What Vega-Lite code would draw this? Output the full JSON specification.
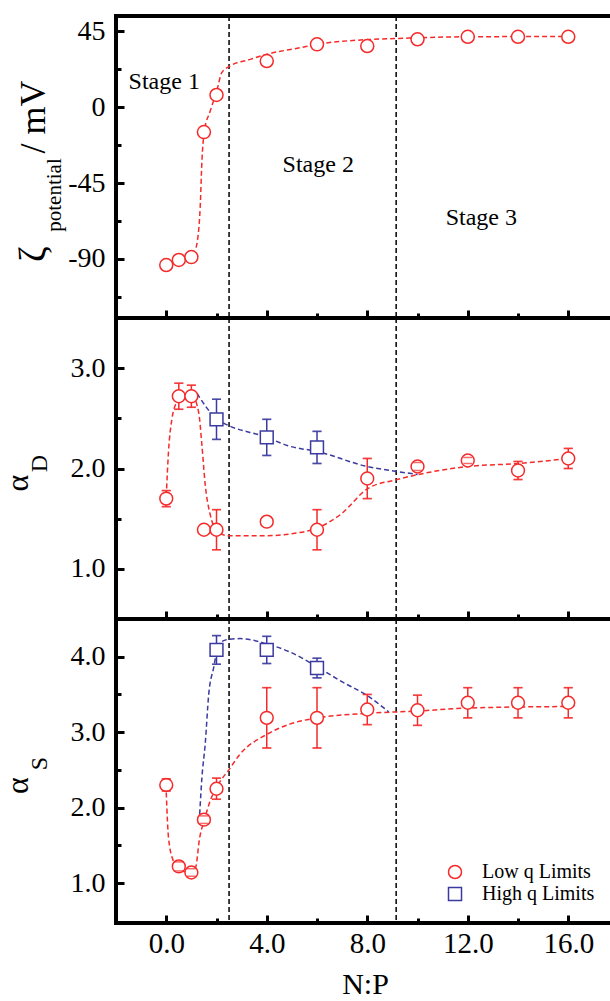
{
  "$schema": "https://vega.github.io/schema/vega-lite/v6.json",
  "background": "white",
  "padding": {"left": 0, "top": 13, "right": 0, "bottom": 0},
  "spacing": 0,
  "bounds": "flush",
  "config": {
    "view": {"stroke": "black", "strokeWidth": 4},
    "axis": {"domain": false, "grid": false, "labelFont": "Liberation Serif", "labelFontSize": 28, "labelColor": "black", "tickColor": "black", "tickWidth": 3, "titleFont": "Liberation Serif", "titleFontWeight": "normal", "titleColor": "black", "labelOverlap": false, "labelFlush": false, "labelBound": false}
  },
  "resolve": {"legend": {"stroke": "independent", "shape": "independent"}},
  "datasets": {
    "dividers": [{"np": 2.5}, {"np": 9.15}],
    "zeta": [
      {"np": 0, "zeta": -93.6}, {"np": 0.5, "zeta": -90.6}, {"np": 1, "zeta": -88.9}, {"np": 1.5, "zeta": -14.8},
      {"np": 2, "zeta": 7.2}, {"np": 4, "zeta": 27.3}, {"np": 6, "zeta": 37.2}, {"np": 8, "zeta": 36.2},
      {"np": 10, "zeta": 40.2}, {"np": 12, "zeta": 41.7}, {"np": 14, "zeta": 41.7}, {"np": 16, "zeta": 41.7}
    ],
    "zetaFit": [
      {"np": 1.19, "zeta": -83.3}, {"np": 1.35, "zeta": -59.6}, {"np": 1.42, "zeta": -32}, {"np": 1.51, "zeta": -14.8},
      {"np": 1.75, "zeta": -2.3}, {"np": 2.01, "zeta": 9.5}, {"np": 2.21, "zeta": 20.4}, {"np": 2.55, "zeta": 24.4},
      {"np": 3.34, "zeta": 28.3}, {"np": 4.0, "zeta": 31.3}, {"np": 5.33, "zeta": 35.2}, {"np": 6.0, "zeta": 37.2},
      {"np": 8, "zeta": 40.0}, {"np": 9.2, "zeta": 40.7}, {"np": 10, "zeta": 41.1}, {"np": 12, "zeta": 41.7},
      {"np": 14, "zeta": 41.8}, {"np": 16, "zeta": 41.9}
    ],
    "stages": [
      {"np": -0.08, "zeta": 14.9, "label": "Stage 1"},
      {"np": 6.05, "zeta": -34.3, "label": "Stage 2"},
      {"np": 12.54, "zeta": -65.7, "label": "Stage 3"}
    ],
    "alphaD": [
      {"np": 0, "value": 1.70, "err": 0.08, "series": "Low q Limits"},
      {"np": 0.5, "value": 2.72, "err": 0.13, "series": "Low q Limits"},
      {"np": 1, "value": 2.72, "err": 0.11, "series": "Low q Limits"},
      {"np": 1.5, "value": 1.39, "err": null, "series": "Low q Limits"},
      {"np": 2, "value": 1.39, "err": 0.2, "series": "Low q Limits"},
      {"np": 4, "value": 1.47, "err": null, "series": "Low q Limits"},
      {"np": 6, "value": 1.39, "err": 0.2, "series": "Low q Limits"},
      {"np": 8, "value": 1.90, "err": 0.2, "series": "Low q Limits"},
      {"np": 10, "value": 2.02, "err": 0.04, "series": "Low q Limits"},
      {"np": 12, "value": 2.08, "err": 0.03, "series": "Low q Limits"},
      {"np": 14, "value": 1.98, "err": 0.09, "series": "Low q Limits"},
      {"np": 16, "value": 2.10, "err": 0.1, "series": "Low q Limits"},
      {"np": 2, "value": 2.49, "err": 0.2, "series": "High q Limits"},
      {"np": 4, "value": 2.31, "err": 0.18, "series": "High q Limits"},
      {"np": 6, "value": 2.21, "err": 0.16, "series": "High q Limits"}
    ],
    "alphaDFit": [
      {"np": 0.0, "value": 1.72, "series": "Low q Limits"},
      {"np": 0.09, "value": 2.17, "series": "Low q Limits"},
      {"np": 0.23, "value": 2.50, "series": "Low q Limits"},
      {"np": 0.36, "value": 2.63, "series": "Low q Limits"},
      {"np": 0.56, "value": 2.69, "series": "Low q Limits"},
      {"np": 1.02, "value": 2.73, "series": "Low q Limits"},
      {"np": 1.29, "value": 2.56, "series": "Low q Limits"},
      {"np": 1.42, "value": 2.23, "series": "Low q Limits"},
      {"np": 1.55, "value": 1.84, "series": "Low q Limits"},
      {"np": 1.75, "value": 1.54, "series": "Low q Limits"},
      {"np": 2.01, "value": 1.38, "series": "Low q Limits"},
      {"np": 2.47, "value": 1.33, "series": "Low q Limits"},
      {"np": 4.0, "value": 1.33, "series": "Low q Limits"},
      {"np": 5.0, "value": 1.35, "series": "Low q Limits"},
      {"np": 6.04, "value": 1.41, "series": "Low q Limits"},
      {"np": 6.93, "value": 1.54, "series": "Low q Limits"},
      {"np": 8.02, "value": 1.80, "series": "Low q Limits"},
      {"np": 9.19, "value": 1.89, "series": "Low q Limits"},
      {"np": 10.03, "value": 1.94, "series": "Low q Limits"},
      {"np": 12.02, "value": 2.02, "series": "Low q Limits"},
      {"np": 14.01, "value": 2.05, "series": "Low q Limits"},
      {"np": 16.03, "value": 2.10, "series": "Low q Limits"},
      {"np": 1.22, "value": 2.75, "series": "High q Limits"},
      {"np": 2.0, "value": 2.50, "series": "High q Limits"},
      {"np": 4.0, "value": 2.31, "series": "High q Limits"},
      {"np": 4.94, "value": 2.22, "series": "High q Limits"},
      {"np": 6.0, "value": 2.17, "series": "High q Limits"},
      {"np": 8.0, "value": 2.02, "series": "High q Limits"},
      {"np": 9.2, "value": 1.97, "series": "High q Limits"},
      {"np": 10.0, "value": 1.94, "series": "High q Limits"}
    ],
    "alphaS": [
      {"np": 0, "value": 2.30, "err": 0.08, "series": "Low q Limits"},
      {"np": 0.5, "value": 1.22, "err": 0.06, "series": "Low q Limits"},
      {"np": 1, "value": 1.14, "err": 0.05, "series": "Low q Limits"},
      {"np": 1.5, "value": 1.84, "err": 0.05, "series": "Low q Limits"},
      {"np": 2, "value": 2.25, "err": 0.14, "series": "Low q Limits"},
      {"np": 4, "value": 3.19, "err": 0.4, "series": "Low q Limits"},
      {"np": 6, "value": 3.19, "err": 0.4, "series": "Low q Limits"},
      {"np": 8, "value": 3.30, "err": 0.2, "series": "Low q Limits"},
      {"np": 10, "value": 3.29, "err": 0.2, "series": "Low q Limits"},
      {"np": 12, "value": 3.39, "err": 0.2, "series": "Low q Limits"},
      {"np": 14, "value": 3.39, "err": 0.2, "series": "Low q Limits"},
      {"np": 16, "value": 3.39, "err": 0.2, "series": "Low q Limits"},
      {"np": 2, "value": 4.09, "err": 0.19, "series": "High q Limits"},
      {"np": 4, "value": 4.09, "err": 0.18, "series": "High q Limits"},
      {"np": 6, "value": 3.85, "err": 0.13, "series": "High q Limits"}
    ],
    "alphaSFit": [
      {"np": 0.0, "value": 2.20, "series": "Low q Limits"},
      {"np": 0.09, "value": 1.60, "series": "Low q Limits"},
      {"np": 0.29, "value": 1.29, "series": "Low q Limits"},
      {"np": 0.52, "value": 1.20, "series": "Low q Limits"},
      {"np": 0.82, "value": 1.14, "series": "Low q Limits"},
      {"np": 1.16, "value": 1.20, "series": "Low q Limits"},
      {"np": 1.33, "value": 1.60, "series": "Low q Limits"},
      {"np": 1.52, "value": 1.84, "series": "Low q Limits"},
      {"np": 1.75, "value": 2.09, "series": "Low q Limits"},
      {"np": 2.15, "value": 2.35, "series": "Low q Limits"},
      {"np": 2.47, "value": 2.49, "series": "Low q Limits"},
      {"np": 2.94, "value": 2.71, "series": "Low q Limits"},
      {"np": 4.0, "value": 2.97, "series": "Low q Limits"},
      {"np": 4.94, "value": 3.11, "series": "Low q Limits"},
      {"np": 6.04, "value": 3.19, "series": "Low q Limits"},
      {"np": 8.02, "value": 3.25, "series": "Low q Limits"},
      {"np": 10.03, "value": 3.28, "series": "Low q Limits"},
      {"np": 12.0, "value": 3.32, "series": "Low q Limits"},
      {"np": 16.0, "value": 3.34, "series": "Low q Limits"},
      {"np": 1.33, "value": 1.91, "series": "High q Limits"},
      {"np": 1.42, "value": 2.40, "series": "High q Limits"},
      {"np": 1.55, "value": 2.84, "series": "High q Limits"},
      {"np": 1.69, "value": 3.50, "series": "High q Limits"},
      {"np": 1.89, "value": 3.86, "series": "High q Limits"},
      {"np": 2.09, "value": 4.17, "series": "High q Limits"},
      {"np": 2.47, "value": 4.23, "series": "High q Limits"},
      {"np": 2.94, "value": 4.24, "series": "High q Limits"},
      {"np": 4.0, "value": 4.17, "series": "High q Limits"},
      {"np": 4.94, "value": 4.06, "series": "High q Limits"},
      {"np": 6.04, "value": 3.86, "series": "High q Limits"},
      {"np": 6.93, "value": 3.68, "series": "High q Limits"},
      {"np": 8.02, "value": 3.48, "series": "High q Limits"},
      {"np": 8.85, "value": 3.27, "series": "High q Limits"}
    ]
  },
  "vconcat": [
    {
      "width": 498, "height": 302,
      "layer": [
        {"data": {"name": "dividers"}, "mark": {"type": "rule", "color": "black", "strokeWidth": 1.5, "strokeDash": [5, 3]},
         "encoding": {
           "x": {"field": "np", "type": "quantitative", "scale": {"domain": [-2, 17.82], "nice": false, "zero": false},
                 "axis": {"values": [0, 2, 4, 6, 8, 10, 12, 14, 16], "labels": false, "title": null, "tickSize": {"condition": {"test": "datum.value % 4 === 0", "value": -8}, "value": -5}}}}},
        {"data": {"name": "zetaFit"}, "mark": {"type": "line", "color": "#f52a2a", "strokeWidth": 1.5, "strokeDash": [5, 3], "interpolate": "monotone"},
         "encoding": {
           "x": {"field": "np", "type": "quantitative", "scale": {"domain": [-2, 17.82], "nice": false, "zero": false},
                 "axis": {"values": [0, 2, 4, 6, 8, 10, 12, 14, 16], "labels": false, "title": null, "tickSize": {"condition": {"test": "datum.value % 4 === 0", "value": -8}, "value": -5}}},
           "y": {"field": "zeta", "type": "quantitative", "scale": {"domain": [-125, 54], "nice": false, "zero": false},
                 "axis": {"values": [-112.5, -90, -67.5, -45, -22.5, 0, 22.5, 45], "title": null, "labelExpr": "datum.value % 45 === 0 ? toString(datum.value) : ''", "labelPadding": 19, "tickSize": {"condition": {"test": "datum.value % 45 === 0", "value": -8}, "value": -5}}}}},
        {"data": {"name": "zeta"}, "mark": {"type": "point", "shape": "circle", "size": 169, "filled": true, "fill": "white", "stroke": "#f52a2a", "strokeWidth": 1.5, "opacity": 1},
         "encoding": {
           "x": {"field": "np", "type": "quantitative", "scale": {"domain": [-2, 17.82], "nice": false, "zero": false},
                 "axis": {"values": [0, 2, 4, 6, 8, 10, 12, 14, 16], "labels": false, "title": null, "tickSize": {"condition": {"test": "datum.value % 4 === 0", "value": -8}, "value": -5}}},
           "y": {"field": "zeta", "type": "quantitative", "scale": {"domain": [-125, 54], "nice": false, "zero": false},
                 "axis": {"values": [-112.5, -90, -67.5, -45, -22.5, 0, 22.5, 45], "title": null, "labelExpr": "datum.value % 45 === 0 ? toString(datum.value) : ''", "labelPadding": 19, "tickSize": {"condition": {"test": "datum.value % 45 === 0", "value": -8}, "value": -5}}}}},
        {"data": {"name": "stages"}, "mark": {"type": "text", "font": "Liberation Serif", "fontSize": 24, "color": "black"},
         "encoding": {
           "x": {"field": "np", "type": "quantitative", "scale": {"domain": [-2, 17.82], "nice": false, "zero": false},
                 "axis": {"values": [0, 2, 4, 6, 8, 10, 12, 14, 16], "labels": false, "title": null, "tickSize": {"condition": {"test": "datum.value % 4 === 0", "value": -8}, "value": -5}}},
           "y": {"field": "zeta", "type": "quantitative", "scale": {"domain": [-125, 54], "nice": false, "zero": false},
                 "axis": {"values": [-112.5, -90, -67.5, -45, -22.5, 0, 22.5, 45], "title": null, "labelExpr": "datum.value % 45 === 0 ? toString(datum.value) : ''", "labelPadding": 19, "tickSize": {"condition": {"test": "datum.value % 45 === 0", "value": -8}, "value": -5}}},
           "text": {"field": "label"}}},
        {"data": {"values": [{}]}, "mark": {"type": "text", "text": "ζ", "font": "Liberation Serif", "fontSize": 38, "angle": 270, "baseline": "alphabetic", "align": "center", "color": "black"},
         "encoding": {
           "x": {"datum": -4.82, "type": "quantitative", "scale": {"domain": [-2, 17.82], "nice": false, "zero": false},
                 "axis": {"values": [0, 2, 4, 6, 8, 10, 12, 14, 16], "labels": false, "title": null, "tickSize": {"condition": {"test": "datum.value % 4 === 0", "value": -8}, "value": -5}}},
           "y": {"datum": -87.1, "type": "quantitative", "scale": {"domain": [-125, 54], "nice": false, "zero": false},
                 "axis": {"values": [-112.5, -90, -67.5, -45, -22.5, 0, 22.5, 45], "title": null, "labelExpr": "datum.value % 45 === 0 ? toString(datum.value) : ''", "labelPadding": 19, "tickSize": {"condition": {"test": "datum.value % 45 === 0", "value": -8}, "value": -5}}}}},
        {"data": {"values": [{}]}, "mark": {"type": "text", "text": "potential", "font": "Liberation Serif", "fontSize": 21, "angle": 270, "baseline": "alphabetic", "align": "center", "color": "black"},
         "encoding": {
           "x": {"datum": -4.18, "type": "quantitative", "scale": {"domain": [-2, 17.82], "nice": false, "zero": false},
                 "axis": {"values": [0, 2, 4, 6, 8, 10, 12, 14, 16], "labels": false, "title": null, "tickSize": {"condition": {"test": "datum.value % 4 === 0", "value": -8}, "value": -5}}},
           "y": {"datum": -52.1, "type": "quantitative", "scale": {"domain": [-125, 54], "nice": false, "zero": false},
                 "axis": {"values": [-112.5, -90, -67.5, -45, -22.5, 0, 22.5, 45], "title": null, "labelExpr": "datum.value % 45 === 0 ? toString(datum.value) : ''", "labelPadding": 19, "tickSize": {"condition": {"test": "datum.value % 45 === 0", "value": -8}, "value": -5}}}}},
        {"data": {"values": [{}]}, "mark": {"type": "text", "text": "/ mV", "font": "Liberation Serif", "fontSize": 36, "angle": 270, "baseline": "alphabetic", "align": "center", "color": "black"},
         "encoding": {
           "x": {"datum": -4.82, "type": "quantitative", "scale": {"domain": [-2, 17.82], "nice": false, "zero": false},
                 "axis": {"values": [0, 2, 4, 6, 8, 10, 12, 14, 16], "labels": false, "title": null, "tickSize": {"condition": {"test": "datum.value % 4 === 0", "value": -8}, "value": -5}}},
           "y": {"datum": -5.9, "type": "quantitative", "scale": {"domain": [-125, 54], "nice": false, "zero": false},
                 "axis": {"values": [-112.5, -90, -67.5, -45, -22.5, 0, 22.5, 45], "title": null, "labelExpr": "datum.value % 45 === 0 ? toString(datum.value) : ''", "labelPadding": 19, "tickSize": {"condition": {"test": "datum.value % 45 === 0", "value": -8}, "value": -5}}}}}
      ]
    },
    {
      "width": 498, "height": 301,
      "layer": [
        {"data": {"name": "dividers"}, "mark": {"type": "rule", "color": "black", "strokeWidth": 1.5, "strokeDash": [5, 3]},
         "encoding": {
           "x": {"field": "np", "type": "quantitative", "scale": {"domain": [-2, 17.82], "nice": false, "zero": false},
                 "axis": {"values": [0, 2, 4, 6, 8, 10, 12, 14, 16], "labels": false, "title": null, "tickSize": {"condition": {"test": "datum.value % 4 === 0", "value": -8}, "value": -5}}}}},
        {"data": {"name": "alphaDFit"}, "mark": {"type": "line", "strokeWidth": 1.5, "strokeDash": [5, 3], "interpolate": "monotone"},
         "encoding": {
           "x": {"field": "np", "type": "quantitative", "scale": {"domain": [-2, 17.82], "nice": false, "zero": false},
                 "axis": {"values": [0, 2, 4, 6, 8, 10, 12, 14, 16], "labels": false, "title": null, "tickSize": {"condition": {"test": "datum.value % 4 === 0", "value": -8}, "value": -5}}},
           "y": {"field": "value", "type": "quantitative", "scale": {"domain": [0.5, 3.5], "nice": false, "zero": false},
                 "axis": {"values": [1, 1.5, 2, 2.5, 3], "title": null, "labelExpr": "datum.value % 1 === 0 ? format(datum.value, '.1f') : ''", "labelPadding": 19, "tickSize": {"condition": {"test": "datum.value % 1 === 0", "value": -8}, "value": -5}}},
           "color": {"field": "series", "type": "nominal", "scale": {"domain": ["Low q Limits", "High q Limits"], "range": ["#f52a2a", "#3a3aa0"]}, "legend": null}}},
        {"data": {"name": "alphaD"}, "transform": [{"filter": "isValid(datum.err)"}],
         "mark": {"type": "errorbar", "ticks": {"size": 9}, "thickness": 1.5},
         "encoding": {
           "x": {"field": "np", "type": "quantitative", "scale": {"domain": [-2, 17.82], "nice": false, "zero": false},
                 "axis": {"values": [0, 2, 4, 6, 8, 10, 12, 14, 16], "labels": false, "title": null, "tickSize": {"condition": {"test": "datum.value % 4 === 0", "value": -8}, "value": -5}}},
           "y": {"field": "value", "type": "quantitative", "scale": {"domain": [0.5, 3.5], "nice": false, "zero": false},
                 "axis": {"values": [1, 1.5, 2, 2.5, 3], "title": null, "labelExpr": "datum.value % 1 === 0 ? format(datum.value, '.1f') : ''", "labelPadding": 19, "tickSize": {"condition": {"test": "datum.value % 1 === 0", "value": -8}, "value": -5}}},
           "yError": {"field": "err"},
           "color": {"field": "series", "type": "nominal", "scale": {"domain": ["Low q Limits", "High q Limits"], "range": ["#f52a2a", "#3a3aa0"]}, "legend": null}}},
        {"data": {"name": "alphaD"}, "mark": {"type": "point", "size": 165, "filled": true, "fill": "white", "strokeWidth": 1.5, "opacity": 1},
         "encoding": {
           "x": {"field": "np", "type": "quantitative", "scale": {"domain": [-2, 17.82], "nice": false, "zero": false},
                 "axis": {"values": [0, 2, 4, 6, 8, 10, 12, 14, 16], "labels": false, "title": null, "tickSize": {"condition": {"test": "datum.value % 4 === 0", "value": -8}, "value": -5}}},
           "y": {"field": "value", "type": "quantitative", "scale": {"domain": [0.5, 3.5], "nice": false, "zero": false},
                 "axis": {"values": [1, 1.5, 2, 2.5, 3], "title": null, "labelExpr": "datum.value % 1 === 0 ? format(datum.value, '.1f') : ''", "labelPadding": 19, "tickSize": {"condition": {"test": "datum.value % 1 === 0", "value": -8}, "value": -5}}},
           "stroke": {"field": "series", "type": "nominal", "scale": {"domain": ["Low q Limits", "High q Limits"], "range": ["#f52a2a", "#3a3aa0"]}, "legend": null},
           "shape": {"field": "series", "type": "nominal", "scale": {"domain": ["Low q Limits", "High q Limits"], "range": ["circle", "square"]}, "legend": null}}},
        {"data": {"name": "alphaD"}, "transform": [{"filter": "isValid(datum.err)"}],
         "mark": {"type": "errorbar", "rule": false, "ticks": {"size": 9}, "thickness": 1.5},
         "encoding": {
           "x": {"field": "np", "type": "quantitative", "scale": {"domain": [-2, 17.82], "nice": false, "zero": false},
                 "axis": {"values": [0, 2, 4, 6, 8, 10, 12, 14, 16], "labels": false, "title": null, "tickSize": {"condition": {"test": "datum.value % 4 === 0", "value": -8}, "value": -5}}},
           "y": {"field": "value", "type": "quantitative", "scale": {"domain": [0.5, 3.5], "nice": false, "zero": false},
                 "axis": {"values": [1, 1.5, 2, 2.5, 3], "title": null, "labelExpr": "datum.value % 1 === 0 ? format(datum.value, '.1f') : ''", "labelPadding": 19, "tickSize": {"condition": {"test": "datum.value % 1 === 0", "value": -8}, "value": -5}}},
           "yError": {"field": "err"},
           "color": {"field": "series", "type": "nominal", "scale": {"domain": ["Low q Limits", "High q Limits"], "range": ["#f52a2a", "#3a3aa0"]}, "legend": null}}},
        {"data": {"values": [{}]}, "mark": {"type": "text", "text": "α", "font": "Liberation Serif", "fontSize": 32, "angle": 270, "baseline": "alphabetic", "align": "center", "color": "black"},
         "encoding": {
           "x": {"datum": -5.49, "type": "quantitative", "scale": {"domain": [-2, 17.82], "nice": false, "zero": false},
                 "axis": {"values": [0, 2, 4, 6, 8, 10, 12, 14, 16], "labels": false, "title": null, "tickSize": {"condition": {"test": "datum.value % 4 === 0", "value": -8}, "value": -5}}},
           "y": {"datum": 1.855, "type": "quantitative", "scale": {"domain": [0.5, 3.5], "nice": false, "zero": false},
                 "axis": {"values": [1, 1.5, 2, 2.5, 3], "title": null, "labelExpr": "datum.value % 1 === 0 ? format(datum.value, '.1f') : ''", "labelPadding": 19, "tickSize": {"condition": {"test": "datum.value % 1 === 0", "value": -8}, "value": -5}}}}},
        {"data": {"values": [{}]}, "mark": {"type": "text", "text": "D", "font": "Liberation Serif", "fontSize": 24, "angle": 270, "baseline": "alphabetic", "align": "center", "color": "black"},
         "encoding": {
           "x": {"datum": -4.74, "type": "quantitative", "scale": {"domain": [-2, 17.82], "nice": false, "zero": false},
                 "axis": {"values": [0, 2, 4, 6, 8, 10, 12, 14, 16], "labels": false, "title": null, "tickSize": {"condition": {"test": "datum.value % 4 === 0", "value": -8}, "value": -5}}},
           "y": {"datum": 2.05, "type": "quantitative", "scale": {"domain": [0.5, 3.5], "nice": false, "zero": false},
                 "axis": {"values": [1, 1.5, 2, 2.5, 3], "title": null, "labelExpr": "datum.value % 1 === 0 ? format(datum.value, '.1f') : ''", "labelPadding": 19, "tickSize": {"condition": {"test": "datum.value % 1 === 0", "value": -8}, "value": -5}}}}}
      ]
    },
    {
      "width": 498, "height": 304,
      "layer": [
        {"data": {"name": "dividers"}, "mark": {"type": "rule", "color": "black", "strokeWidth": 1.5, "strokeDash": [5, 3]},
         "encoding": {
           "x": {"field": "np", "type": "quantitative", "scale": {"domain": [-2, 17.82], "nice": false, "zero": false},
                 "axis": {"values": [0, 2, 4, 6, 8, 10, 12, 14, 16], "title": "N:P", "titleFontSize": 30, "titlePadding": 8, "labelExpr": "datum.value % 4 === 0 ? format(datum.value, '.1f') : ''", "labelPadding": 14, "labelFontSize": 29, "tickSize": {"condition": {"test": "datum.value % 4 === 0", "value": -8}, "value": -5}}}}},
        {"data": {"name": "alphaSFit"}, "mark": {"type": "line", "strokeWidth": 1.5, "strokeDash": [5, 3], "interpolate": "monotone"},
         "encoding": {
           "x": {"field": "np", "type": "quantitative", "scale": {"domain": [-2, 17.82], "nice": false, "zero": false},
                 "axis": {"values": [0, 2, 4, 6, 8, 10, 12, 14, 16], "title": "N:P", "titleFontSize": 30, "titlePadding": 8, "labelExpr": "datum.value % 4 === 0 ? format(datum.value, '.1f') : ''", "labelPadding": 14, "labelFontSize": 29, "tickSize": {"condition": {"test": "datum.value % 4 === 0", "value": -8}, "value": -5}}},
           "y": {"field": "value", "type": "quantitative", "scale": {"domain": [0.47, 4.5], "nice": false, "zero": false},
                 "axis": {"values": [1, 1.5, 2, 2.5, 3, 3.5, 4], "title": null, "labelExpr": "datum.value % 1 === 0 ? format(datum.value, '.1f') : ''", "labelPadding": 19, "tickSize": {"condition": {"test": "datum.value % 1 === 0", "value": -8}, "value": -5}}},
           "color": {"field": "series", "type": "nominal", "scale": {"domain": ["Low q Limits", "High q Limits"], "range": ["#f52a2a", "#3a3aa0"]}, "legend": null}}},
        {"data": {"name": "alphaS"}, "transform": [{"filter": "isValid(datum.err)"}],
         "mark": {"type": "errorbar", "ticks": {"size": 9}, "thickness": 1.5},
         "encoding": {
           "x": {"field": "np", "type": "quantitative", "scale": {"domain": [-2, 17.82], "nice": false, "zero": false},
                 "axis": {"values": [0, 2, 4, 6, 8, 10, 12, 14, 16], "title": "N:P", "titleFontSize": 30, "titlePadding": 8, "labelExpr": "datum.value % 4 === 0 ? format(datum.value, '.1f') : ''", "labelPadding": 14, "labelFontSize": 29, "tickSize": {"condition": {"test": "datum.value % 4 === 0", "value": -8}, "value": -5}}},
           "y": {"field": "value", "type": "quantitative", "scale": {"domain": [0.47, 4.5], "nice": false, "zero": false},
                 "axis": {"values": [1, 1.5, 2, 2.5, 3, 3.5, 4], "title": null, "labelExpr": "datum.value % 1 === 0 ? format(datum.value, '.1f') : ''", "labelPadding": 19, "tickSize": {"condition": {"test": "datum.value % 1 === 0", "value": -8}, "value": -5}}},
           "yError": {"field": "err"},
           "color": {"field": "series", "type": "nominal", "scale": {"domain": ["Low q Limits", "High q Limits"], "range": ["#f52a2a", "#3a3aa0"]}, "legend": null}}},
        {"data": {"name": "alphaS"}, "mark": {"type": "point", "size": 165, "filled": true, "fill": "white", "strokeWidth": 1.5, "opacity": 1},
         "encoding": {
           "x": {"field": "np", "type": "quantitative", "scale": {"domain": [-2, 17.82], "nice": false, "zero": false},
                 "axis": {"values": [0, 2, 4, 6, 8, 10, 12, 14, 16], "title": "N:P", "titleFontSize": 30, "titlePadding": 8, "labelExpr": "datum.value % 4 === 0 ? format(datum.value, '.1f') : ''", "labelPadding": 14, "labelFontSize": 29, "tickSize": {"condition": {"test": "datum.value % 4 === 0", "value": -8}, "value": -5}}},
           "y": {"field": "value", "type": "quantitative", "scale": {"domain": [0.47, 4.5], "nice": false, "zero": false},
                 "axis": {"values": [1, 1.5, 2, 2.5, 3, 3.5, 4], "title": null, "labelExpr": "datum.value % 1 === 0 ? format(datum.value, '.1f') : ''", "labelPadding": 19, "tickSize": {"condition": {"test": "datum.value % 1 === 0", "value": -8}, "value": -5}}},
           "stroke": {"field": "series", "type": "nominal", "scale": {"domain": ["Low q Limits", "High q Limits"], "range": ["#f52a2a", "#3a3aa0"]},
                      "legend": {"orient": "bottom-right", "offset": 19, "title": null, "padding": 0, "labelFont": "Liberation Serif", "labelFontSize": 20, "labelColor": "black", "symbolSize": 169, "symbolStrokeWidth": 1.5, "labelOffset": 17, "rowPadding": 2, "symbolFillColor": "white"}},
           "shape": {"field": "series", "type": "nominal", "scale": {"domain": ["Low q Limits", "High q Limits"], "range": ["circle", "square"]},
                     "legend": {"orient": "bottom-right", "offset": 19, "title": null, "padding": 0, "labelFont": "Liberation Serif", "labelFontSize": 20, "labelColor": "black", "symbolSize": 169, "symbolStrokeWidth": 1.5, "labelOffset": 17, "rowPadding": 2, "symbolFillColor": "white"}}}},
        {"data": {"name": "alphaS"}, "transform": [{"filter": "isValid(datum.err)"}],
         "mark": {"type": "errorbar", "rule": false, "ticks": {"size": 9}, "thickness": 1.5},
         "encoding": {
           "x": {"field": "np", "type": "quantitative", "scale": {"domain": [-2, 17.82], "nice": false, "zero": false},
                 "axis": {"values": [0, 2, 4, 6, 8, 10, 12, 14, 16], "title": "N:P", "titleFontSize": 30, "titlePadding": 8, "labelExpr": "datum.value % 4 === 0 ? format(datum.value, '.1f') : ''", "labelPadding": 14, "labelFontSize": 29, "tickSize": {"condition": {"test": "datum.value % 4 === 0", "value": -8}, "value": -5}}},
           "y": {"field": "value", "type": "quantitative", "scale": {"domain": [0.47, 4.5], "nice": false, "zero": false},
                 "axis": {"values": [1, 1.5, 2, 2.5, 3, 3.5, 4], "title": null, "labelExpr": "datum.value % 1 === 0 ? format(datum.value, '.1f') : ''", "labelPadding": 19, "tickSize": {"condition": {"test": "datum.value % 1 === 0", "value": -8}, "value": -5}}},
           "yError": {"field": "err"},
           "color": {"field": "series", "type": "nominal", "scale": {"domain": ["Low q Limits", "High q Limits"], "range": ["#f52a2a", "#3a3aa0"]}, "legend": null}}},
        {"data": {"values": [{}]}, "mark": {"type": "text", "text": "α", "font": "Liberation Serif", "fontSize": 32, "angle": 270, "baseline": "alphabetic", "align": "center", "color": "black"},
         "encoding": {
           "x": {"datum": -5.49, "type": "quantitative", "scale": {"domain": [-2, 17.82], "nice": false, "zero": false},
                 "axis": {"values": [0, 2, 4, 6, 8, 10, 12, 14, 16], "title": "N:P", "titleFontSize": 30, "titlePadding": 8, "labelExpr": "datum.value % 4 === 0 ? format(datum.value, '.1f') : ''", "labelPadding": 14, "labelFontSize": 29, "tickSize": {"condition": {"test": "datum.value % 4 === 0", "value": -8}, "value": -5}}},
           "y": {"datum": 2.292, "type": "quantitative", "scale": {"domain": [0.47, 4.5], "nice": false, "zero": false},
                 "axis": {"values": [1, 1.5, 2, 2.5, 3, 3.5, 4], "title": null, "labelExpr": "datum.value % 1 === 0 ? format(datum.value, '.1f') : ''", "labelPadding": 19, "tickSize": {"condition": {"test": "datum.value % 1 === 0", "value": -8}, "value": -5}}}}},
        {"data": {"values": [{}]}, "mark": {"type": "text", "text": "S", "font": "Liberation Serif", "fontSize": 24, "angle": 270, "baseline": "alphabetic", "align": "center", "color": "black"},
         "encoding": {
           "x": {"datum": -4.74, "type": "quantitative", "scale": {"domain": [-2, 17.82], "nice": false, "zero": false},
                 "axis": {"values": [0, 2, 4, 6, 8, 10, 12, 14, 16], "title": "N:P", "titleFontSize": 30, "titlePadding": 8, "labelExpr": "datum.value % 4 === 0 ? format(datum.value, '.1f') : ''", "labelPadding": 14, "labelFontSize": 29, "tickSize": {"condition": {"test": "datum.value % 4 === 0", "value": -8}, "value": -5}}},
           "y": {"datum": 2.584, "type": "quantitative", "scale": {"domain": [0.47, 4.5], "nice": false, "zero": false},
                 "axis": {"values": [1, 1.5, 2, 2.5, 3, 3.5, 4], "title": null, "labelExpr": "datum.value % 1 === 0 ? format(datum.value, '.1f') : ''", "labelPadding": 19, "tickSize": {"condition": {"test": "datum.value % 1 === 0", "value": -8}, "value": -5}}}}}
      ]
    }
  ]
}
